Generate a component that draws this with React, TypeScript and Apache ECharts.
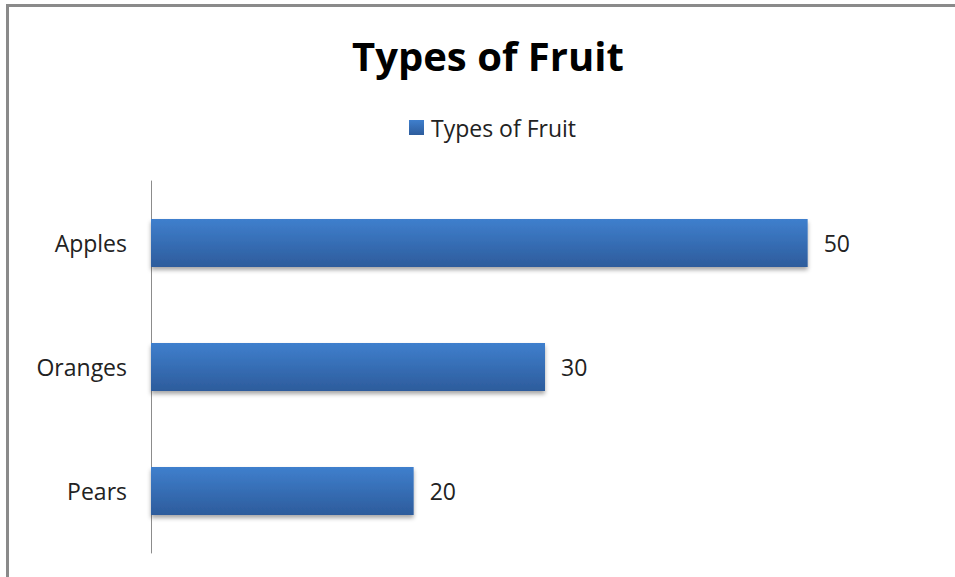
import React, { useEffect, useRef } from "react";
import * as echarts from "echarts";

const categories = ["Apples", "Oranges", "Pears"];
const values = [50, 30, 20];
const seriesName = "Types of Fruit";
const titleText = "Types of Fruit";

export default function App() {
  const ref = useRef<HTMLDivElement>(null);
  useEffect(() => {
    if (!ref.current) return;
    const chart = echarts.init(ref.current, null, { renderer: "svg" });
    const font = "'Open Sans', sans-serif";
    chart.setOption({
      animation: false,
      backgroundColor: "#ffffff",
      title: {
        text: titleText,
        left: 347,
        top: 30,
        textStyle: { fontFamily: font, fontWeight: "bold", fontSize: 40, color: "#000" },
      },
      legend: {
        data: [seriesName],
        top: 111,
        left: 404,
        icon: "rect",
        itemWidth: 15,
        itemHeight: 15,
        itemGap: 8,
        textStyle: { fontFamily: font, fontSize: 23, color: "#222", padding: [0, 0, 0, 2] },
      },
      grid: { left: 151, right: 16, top: 181, bottom: 24, containLabel: false },
      xAxis: {
        type: "value",
        min: 0,
        max: 60,
        show: false,
      },
      yAxis: {
        type: "category",
        data: categories,
        inverse: true,
        axisLine: { show: true, lineStyle: { color: "#8c8c8c", width: 1 } },
        axisTick: { show: false },
        axisLabel: { margin: 24, fontFamily: font, fontSize: 23, color: "#222" },
        splitLine: { show: false },
      },
      series: [
        {
          name: seriesName,
          type: "bar",
          data: values,
          barWidth: 48,
          itemStyle: {
            color: new echarts.graphic.LinearGradient(0, 0, 0, 1, [
              { offset: 0, color: "#3f7fcd" },
              { offset: 1, color: "#2d5c9c" },
            ]),
            shadowColor: "rgba(0,0,0,0.35)",
            shadowBlur: 4,
            shadowOffsetY: 3,
          },
          label: {
            show: true,
            position: "right",
            distance: 16,
            fontFamily: font,
            fontSize: 23,
            color: "#222",
          },
        },
      ],
      graphic: [
        { type: "rect", shape: { x: 6, y: 4, width: 3, height: 573 }, style: { fill: "#8a8a8a" }, silent: true },
        { type: "rect", shape: { x: 6, y: 4, width: 949, height: 3 }, style: { fill: "#8a8a8a" }, silent: true },
      ],
    });
    return () => chart.dispose();
  }, []);
  return (
    <div
      ref={ref}
      style={{ position: "fixed", left: 0, top: 0, width: 955, height: 577 }}
    />
  );
}
